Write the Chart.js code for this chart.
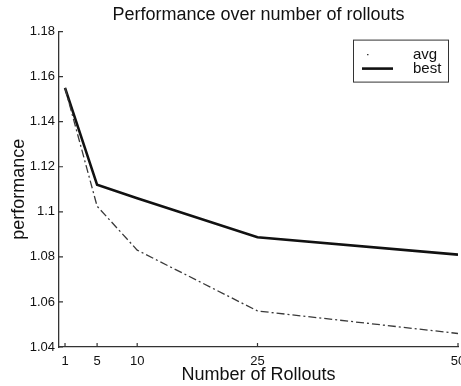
<!DOCTYPE html>
<html><head><meta charset="utf-8">
<script src="https://cdn.jsdelivr.net/npm/chart.js@4/dist/chart.umd.min.js"></script>
<style>html,body{margin:0;padding:0;background:#fff;}#wrap{width:461px;height:386px;}</style>
</head><body><div id="wrap"><canvas id="c" width="461" height="386"></canvas></div>
<script>
const rollouts = [1, 5, 10, 25, 50];
const avgPerf = [1.155, 1.1025, 1.083, 1.056, 1.046];
const bestPerf = [1.155, 1.112, 1.106, 1.0887, 1.081];
const xTicks = [1, 5, 10, 25, 50];
const yTicks = [1.04, 1.06, 1.08, 1.1, 1.12, 1.14, 1.16, 1.18];
const yTickLabels = ['1.04', '1.06', '1.08', '1.1', '1.12', '1.14', '1.16', '1.18'];
const seriesNames = ['avg', 'best'];

const FONT = "'Liberation Sans', Arial, Helvetica, sans-serif";
const INK = '#111';

const inwardTicks = {
  id: 'inwardTicks',
  afterDatasetsDraw(chart) {
    const {ctx, chartArea: a, scales: {x, y}} = chart;
    ctx.save();
    ctx.strokeStyle = '#333';
    ctx.lineWidth = 1.2;
    ctx.beginPath();
    xTicks.forEach(v => { const px = x.getPixelForValue(v); ctx.moveTo(px, a.bottom); ctx.lineTo(px, a.bottom - 4); });
    yTicks.forEach(v => { const py = y.getPixelForValue(v); ctx.moveTo(a.left, py); ctx.lineTo(a.left + 4, py); });
    ctx.stroke();
    ctx.restore();
  }
};

const boxLegend = {
  id: 'boxLegend',
  afterDraw(chart) {
    const {ctx, chartArea: a} = chart;
    const L = a.right - 105, T = a.top + 8, W = 95, H = 42;
    ctx.save();
    ctx.fillStyle = '#fff';
    ctx.fillRect(L, T, W, H);
    ctx.strokeStyle = '#333';
    ctx.lineWidth = 1;
    ctx.strokeRect(L + 0.5, T + 0.5, W, H);
    chart.data.datasets.forEach((ds, i) => {
      const yy = T + 15 + i * 14;
      ctx.strokeStyle = ds.borderColor;
      ctx.lineWidth = ds.borderWidth;
      if (i === 0) { ctx.setLineDash([1.5, 40]); ctx.lineDashOffset = -5; } else { ctx.setLineDash([]); }
      ctx.beginPath(); ctx.moveTo(L + 9, yy); ctx.lineTo(L + 40, yy); ctx.stroke();
      ctx.setLineDash([]);
      ctx.fillStyle = INK;
      ctx.font = '15px ' + FONT;
      ctx.textBaseline = 'middle';
      ctx.textAlign = 'left';
      ctx.fillText(ds.label, L + 60, yy);
    });
    ctx.restore();
  }
};

new Chart(document.getElementById('c'), {
  type: 'line',
  data: {
    datasets: [
      { label: seriesNames[0], data: rollouts.map((r, i) => ({x: r, y: avgPerf[i]})), borderColor: '#3a3a3a', borderWidth: 1.3, borderDash: [8, 3, 2, 3], pointRadius: 0, tension: 0, fill: false },
      { label: seriesNames[1], data: rollouts.map((r, i) => ({x: r, y: bestPerf[i]})), borderColor: '#111', borderWidth: 2.6, pointRadius: 0, tension: 0, fill: false }
    ]
  },
  options: {
    responsive: false, animation: false, devicePixelRatio: 1,
    layout: { padding: { top: 0, right: 3, bottom: 0, left: 0 } },
    plugins: {
      legend: { display: false },
      tooltip: { enabled: false },
      title: { display: true, fullSize: false, text: 'Performance over number of rollouts', color: INK, font: { family: FONT, size: 18, weight: 'normal' }, padding: { top: 4, bottom: 6 } }
    },
    scales: {
      x: {
        type: 'linear', min: 0.25, max: 50,
        afterBuildTicks: s => { s.ticks = xTicks.map(v => ({value: v})); },
        afterFit: s => { s.height = 39; s.paddingLeft = 0; s.paddingRight = 0; },
        grid: { display: false, drawTicks: false },
        border: { display: true, color: '#333', width: 1.3 },
        ticks: { padding: 7, color: INK, font: { family: FONT, size: 13 }, autoSkip: false, maxRotation: 0, callback: v => String(v) },
        title: { display: true, text: 'Number of Rollouts', color: INK, font: { family: FONT, size: 18 }, padding: { top: 0, bottom: 0 } }
      },
      y: {
        min: 1.04, max: 1.18,
        afterBuildTicks: s => { s.ticks = yTicks.map(v => ({value: v})); },
        afterFit: s => { s.width = 59; },
        grid: { display: false, drawTicks: false },
        border: { display: true, color: '#333', width: 1.3 },
        ticks: { padding: 4, color: INK, font: { family: FONT, size: 13 }, autoSkip: false, callback: (v, i) => yTickLabels[i] },
        title: { display: true, text: 'performance', color: INK, font: { family: FONT, size: 18 }, padding: { top: 8, bottom: 0 } }
      }
    }
  },
  plugins: [inwardTicks, boxLegend]
});
</script></body></html>
